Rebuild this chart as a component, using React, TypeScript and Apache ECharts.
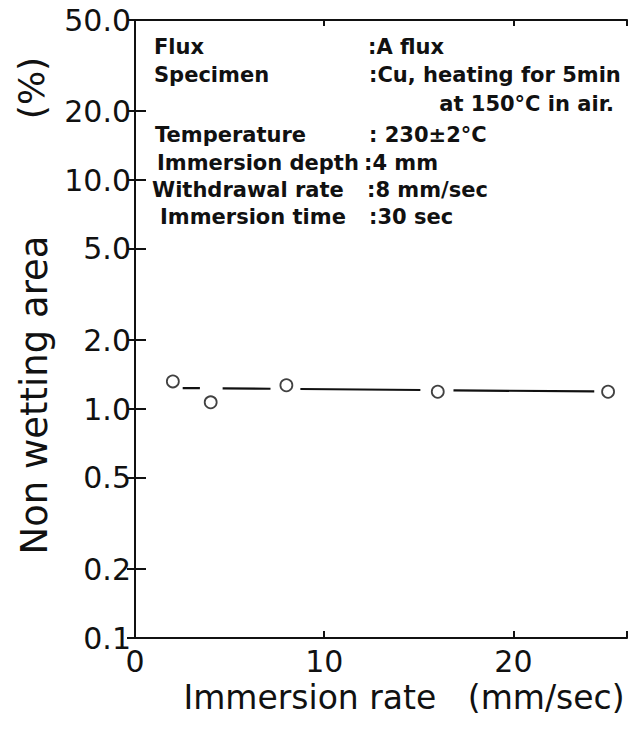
import React, { useEffect, useRef } from "react";
import * as echarts from "echarts";

// Data
const immersionRate = [2, 4, 8, 16, 25];
const nonWettingArea = [1.32, 1.07, 1.27, 1.19, 1.19];

// Trend line, drawn as broken segments around the markers
const fitSegmentStartX = [2.52, 4.63, 8.74, 16.83];
const fitSegmentEndX = [3.43, 7.16, 15.08, 24.27];
const fitSegmentStartY = [1.235, 1.231, 1.223, 1.207];
const fitSegmentEndY = [1.233, 1.226, 1.211, 1.193];

const yTickValues = [0.1, 0.2, 0.5, 1, 2, 5, 10, 20, 50];
const yTickLabels = ["0.1", "0.2", "0.5", "1.0", "2.0", "5.0", "10.0", "20.0", "50.0"];
const xTickLabels = ["0", "10", "20"];

const conditionNames = ["Flux", "Specimen", "Temperature", "Immersion depth", "Withdrawal rate", "Immersion time"];
const conditionValues = [":A flux", ":Cu, heating for 5min", ": 230±2°C", ":4 mm", ":8 mm/sec", ":30 sec"];
const conditionExtra = "at 150°C in air.";

const TICK_FONT = "DejaVu Sans";
const NOTE_FONT = "DejaVu Sans";

export default function App() {
  const ref = useRef<HTMLDivElement>(null);
  useEffect(() => {
    if (!ref.current) return;
    const chart = echarts.init(ref.current, null, { renderer: "svg" });

    const nameX = [154, 154, 155, 157, 152, 160];
    const nameY = [47, 75, 135, 163, 190, 217];
    const valX = [368, 369, 369, 364, 367, 369];

    const noteStyle = { fontFamily: NOTE_FONT, fontSize: 21, fontWeight: "bold" as const, fill: "#111" };
    const notes: any[] = [];
    conditionNames.forEach((t, i) => {
      notes.push({ type: "text", x: nameX[i], y: nameY[i], style: { ...noteStyle, text: t, align: "left", verticalAlign: "middle" } });
      notes.push({ type: "text", x: valX[i], y: nameY[i], style: { ...noteStyle, text: conditionValues[i], align: "left", verticalAlign: "middle" } });
    });
    notes.push({ type: "text", x: 614, y: 104, style: { ...noteStyle, text: conditionExtra, align: "right", verticalAlign: "middle" } });
    notes.push({
      type: "text",
      x: 31,
      y: 88,
      rotation: Math.PI / 2,
      style: { text: "(%)", fontFamily: TICK_FONT, fontSize: 36, fill: "#111", align: "center", verticalAlign: "middle" },
    });

    const lineSeries = fitSegmentStartX.map((sx, i) => ({
      type: "line",
      xAxisIndex: 0,
      yAxisIndex: 0,
      symbol: "none",
      lineStyle: { color: "#111", width: 2.2 },
      data: [
        [sx, fitSegmentStartY[i]],
        [fitSegmentEndX[i], fitSegmentEndY[i]],
      ],
      z: 2,
    }));

    const axisLineStyle = { color: "#111", width: 2 };

    chart.setOption({
      animation: false,
      backgroundColor: "#fff",
      grid: { left: 135, right: 14, top: 20, bottom: 96, containLabel: false },
      xAxis: [
        {
          type: "value",
          position: "bottom",
          min: 0,
          max: 26,
          interval: 10,
          name: "Immersion rate   (mm/sec)",
          nameLocation: "middle",
          nameGap: 40,
          nameTextStyle: { fontFamily: TICK_FONT, fontSize: 33, color: "#111", padding: [0, 0, 0, 46] },
          axisLine: { show: true, lineStyle: axisLineStyle },
          axisTick: { show: true, inside: true, length: 7, lineStyle: axisLineStyle },
          axisLabel: {
            fontFamily: TICK_FONT,
            fontSize: 30,
            lineHeight: 22,
            color: "#111",
            margin: 12,
            formatter: (v: number) => xTickLabels[Math.round(v / 10)] ?? "",
          },
          splitLine: { show: false },
        },
        {
          type: "value",
          position: "top",
          min: 0,
          max: 26,
          interval: 10,
          axisLine: { show: true, lineStyle: axisLineStyle },
          axisTick: { show: true, inside: true, length: 6, lineStyle: axisLineStyle },
          axisLabel: { show: false },
          splitLine: { show: false },
        },
      ],
      yAxis: [
        {
          type: "log",
          logBase: 10,
          position: "left",
          min: 0.1,
          max: 50,
          name: "Non wetting area",
          nameLocation: "middle",
          nameGap: 77,
          nameRotate: 90,
          nameTextStyle: { fontFamily: TICK_FONT, fontSize: 37, color: "#111", padding: [0, 132, 0, 0] },
          axisLine: { show: true, lineStyle: axisLineStyle },
          axisTick: { show: true, inside: true, length: 11, lineStyle: axisLineStyle, customValues: yTickValues },
          axisLabel: {
            fontFamily: TICK_FONT,
            fontSize: 30,
            lineHeight: 20,
            color: "#111",
            margin: 4,
            customValues: yTickValues,
            formatter: (v: number) => {
              let best = 0;
              yTickValues.forEach((t, i) => {
                if (Math.abs(Math.log10(t) - Math.log10(v)) < Math.abs(Math.log10(yTickValues[best]) - Math.log10(v))) best = i;
              });
              return yTickLabels[best];
            },
          },
          splitLine: { show: false },
          minorTick: { show: false },
        },
        {
          type: "log",
          logBase: 10,
          position: "right",
          min: 0.1,
          max: 50,
          axisLine: { show: true, lineStyle: axisLineStyle },
          axisTick: { show: true, inside: true, length: 8, lineStyle: axisLineStyle, customValues: yTickValues },
          axisLabel: { show: false, customValues: yTickValues },
          splitLine: { show: false },
        },
      ],
      graphic: notes,
      series: [
        ...lineSeries,
        {
          type: "scatter",
          xAxisIndex: 0,
          yAxisIndex: 0,
          symbol: "circle",
          symbolSize: 12,
          itemStyle: { color: "#fff", borderColor: "#111", borderWidth: 1.8 },
          data: immersionRate.map((x, i) => [x, nonWettingArea[i]]),
          z: 3,
        },
      ],
    });
    return () => chart.dispose();
  }, []);
  return <div ref={ref} style={{ position: "absolute", left: 0, top: 0, width: 641, height: 734, background: "#fff" }} />;
}
